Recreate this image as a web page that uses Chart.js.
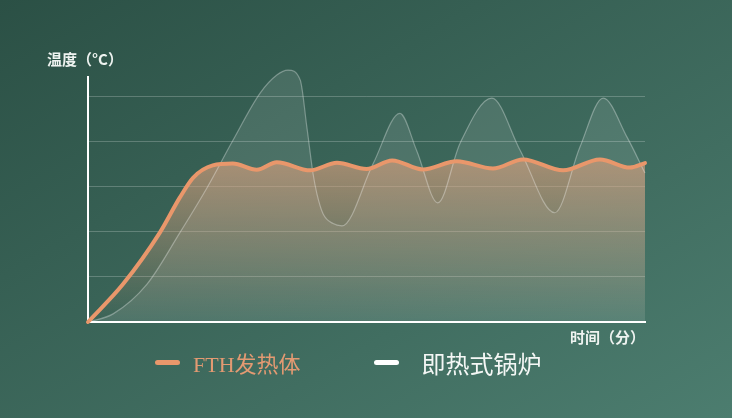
<!DOCTYPE html>
<html>
<head>
<meta charset="utf-8">
<script src="https://cdn.jsdelivr.net/npm/chart.js@4/dist/chart.umd.min.js"></script>
<style>
  html, body { margin: 0; padding: 0; }
  body {
    width: 732px; height: 418px; overflow: hidden;
    background: linear-gradient(to bottom right, #2b5045, #4c7d6f);
  }
  #wrap { position: relative; width: 732px; height: 418px; }
  #legend {
    position: absolute; left: 155px; top: 348px; height: 28px;
    display: flex; align-items: center;
    font-family: "Noto Sans CJK SC", sans-serif;
  }
  .item { display: flex; align-items: center; }
  .swatch { width: 25px; height: 5px; border-radius: 3px; }
</style>
</head>
<body>
<div id="wrap">
  <canvas id="js--chart" width="732" height="418"></canvas>
  <div id="legend"></div>
</div>
<script>
// FTH发热体 - tijd (0-100) en temperatuur
const fthTime = [0, 6.3, 12.9, 16.5, 18.9, 22.4, 26, 30.3, 33.9, 39.9, 44.7, 50, 54.6, 60.1, 66.2, 72.7, 78.1, 85.3, 91.9, 97.3, 100];
const fthTemp = [0, 0.84, 1.98, 2.76, 3.2, 3.47, 3.51, 3.37, 3.54, 3.36, 3.53, 3.39, 3.58, 3.38, 3.56, 3.4, 3.6, 3.36, 3.6, 3.42, 3.52];

// 即热式锅炉
const boilerTime = [0, 4.5, 10.6, 16.5, 21.4, 26, 30.9, 33.9, 35.9, 38.1, 39.3, 40.4, 41.1, 42.2, 44, 45.6, 51.2, 56, 59, 62.8, 66.8, 72.5, 77.6, 83.8, 88.3, 92.5, 96.8, 100];
const boilerTemp = [0, 0.18, 0.84, 1.98, 2.98, 4.02, 5.07, 5.47, 5.58, 5.36, 4.31, 3.29, 2.84, 2.4, 2.18, 2.13, 3.51, 4.62, 3.8, 2.64, 3.96, 4.96, 3.8, 2.42, 3.87, 4.96, 4.09, 3.3];

const seriesLabels = ["FTH发热体", "即热式锅炉"];
const seriesColors = ["#e9976b", "#ffffff"];

// y-as loopt tot hier, de grafiek zelf mag er iets boven
const axisTop = 5.45;

function toPoints(xs, ys) {
    return xs.map((x, i) => ({ x: x, y: ys[i] }));
}

function orangeFill(context) {
    const chart = context.chart;
    const area = chart.chartArea;
    if (!area) return "rgba(214,159,125,0.6)";
    const top = chart.scales.y.getPixelForValue(3.5);
    const g = chart.ctx.createLinearGradient(0, top, 0, area.bottom);
    g.addColorStop(0, "rgba(214,159,125,0.66)");
    g.addColorStop(0.55, "rgba(214,159,125,0.3)");
    g.addColorStop(1, "rgba(214,159,125,0.0)");
    return g;
}

const yAxisLine = {
    id: "yAxisLine",
    beforeDatasetsDraw(chart) {
        const ctx = chart.ctx;
        const y = chart.scales.y;
        const x = chart.chartArea.left;
        ctx.save();
        ctx.strokeStyle = "#ffffff";
        ctx.lineWidth = 2;
        ctx.beginPath();
        ctx.moveTo(x, y.getPixelForValue(0));
        ctx.lineTo(x, y.getPixelForValue(axisTop));
        ctx.stroke();
        ctx.restore();
    }
};

const data = {
    datasets: [
        {
            label: seriesLabels[0],
            data: toPoints(fthTime, fthTemp),
            borderColor: seriesColors[0],
            borderWidth: 4,
            backgroundColor: orangeFill,
            fill: "origin",
            cubicInterpolationMode: "monotone",
            pointRadius: 0,
            borderCapStyle: "round",
            clip: false
        },
        {
            label: seriesLabels[1],
            data: toPoints(boilerTime, boilerTemp),
            borderColor: "rgba(255,255,255,0.32)",
            borderWidth: 1.2,
            backgroundColor: "rgba(255,255,255,0.1)",
            fill: "origin",
            cubicInterpolationMode: "monotone",
            pointRadius: 0,
            clip: false
        }
    ]
};

const config = {
    type: "line",
    data: data,
    plugins: [yAxisLine],
    options: {
        responsive: false,
        animation: false,
        layout: { padding: { left: 47, right: 87, top: 0, bottom: 73 } },
        plugins: {
            legend: { display: false },
            tooltip: { enabled: false },
            filler: { drawTime: "beforeDatasetsDraw" },
            title: {
                display: true,
                text: "温度（°C）",
                align: "start",
                color: "#eef3f0",
                font: { family: "Noto Sans CJK SC", size: 15, weight: "bold", lineHeight: 1 },
                padding: { top: 51.5, bottom: 0 }
            }
        },
        scales: {
            x: {
                type: "linear",
                min: 0,
                max: 100,
                ticks: { display: false },
                grid: { display: false },
                border: { display: true, color: "#ffffff", width: 2 },
                title: {
                    display: true,
                    text: "时间（分）",
                    align: "end",
                    color: "#eef3f0",
                    font: { family: "Noto Sans CJK SC", size: 15, weight: "bold", lineHeight: 1 },
                    padding: { top: 0, bottom: 0 }
                }
            },
            y: {
                min: 0,
                max: 5.66,
                ticks: { display: false, stepSize: 1 },
                grid: {
                    drawTicks: false,
                    color: (c) => (c.tick && c.tick.value > 0 && Number.isInteger(c.tick.value)) ? "rgba(255,255,255,0.22)" : "transparent"
                },
                border: { display: false },
                afterFit: (scale) => { scale.width = 41; }
            }
        }
    }
};

new Chart(document.getElementById("js--chart"), config);

// legenda in html
const legend = document.getElementById("legend");
const gaps = [13, 23];
const sizes = [22, 24];
seriesLabels.forEach((label, i) => {
    const item = document.createElement("div");
    item.className = "item";
    if (i > 0) item.style.marginLeft = "73px";
    const sw = document.createElement("div");
    sw.className = "swatch";
    sw.style.background = seriesColors[i];
    const txt = document.createElement("span");
    txt.textContent = label;
    txt.style.marginLeft = gaps[i] + "px";
    txt.style.fontSize = sizes[i] + "px";
    txt.style.color = i === 0 ? "#e39a72" : "#f4f7f5";
    if (i === 0) txt.style.fontFamily = '"Liberation Serif", "Noto Sans CJK SC", serif';
    item.appendChild(sw);
    item.appendChild(txt);
    legend.appendChild(item);
});
</script>
</body>
</html>
